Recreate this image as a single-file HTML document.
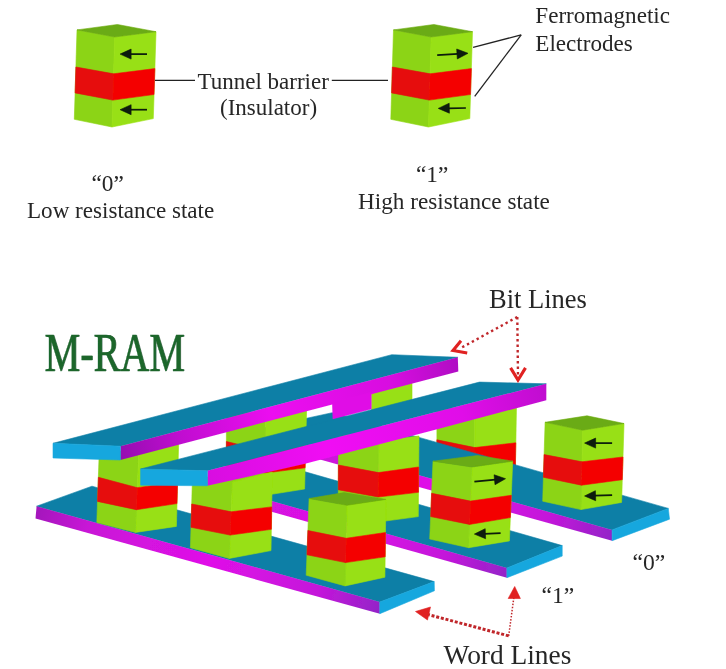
<!DOCTYPE html>
<html><head><meta charset="utf-8"><title>M-RAM</title>
<style>
html,body{margin:0;padding:0;background:#fff;}
body{width:726px;height:669px;overflow:hidden;font-family:"Liberation Serif",serif;}
svg{display:block;}
text{font-family:"Liberation Serif",serif;}
</style></head><body>
<svg width="726" height="669" viewBox="0 0 726 669">
<defs>
<filter id="bl" x="-2%" y="-2%" width="104%" height="104%"><feGaussianBlur stdDeviation="0.55"/></filter>
<filter id="bt" x="-2%" y="-2%" width="104%" height="104%"><feGaussianBlur stdDeviation="0.3"/></filter>
<linearGradient id="mw1" gradientUnits="userSpaceOnUse" x1="36" y1="512" x2="380" y2="608"><stop offset="0" stop-color="#a416bc"/><stop offset="0.15" stop-color="#c814d6"/><stop offset="0.5" stop-color="#e010e8"/><stop offset="0.82" stop-color="#c416da"/><stop offset="1" stop-color="#9424c8"/></linearGradient>
<linearGradient id="mw2" gradientUnits="userSpaceOnUse" x1="160" y1="475" x2="507" y2="573"><stop offset="0" stop-color="#a416bc"/><stop offset="0.15" stop-color="#c814d6"/><stop offset="0.5" stop-color="#e010e8"/><stop offset="0.82" stop-color="#c416da"/><stop offset="1" stop-color="#9424c8"/></linearGradient>
<linearGradient id="mw3" gradientUnits="userSpaceOnUse" x1="256" y1="435" x2="612" y2="535"><stop offset="0" stop-color="#a416bc"/><stop offset="0.15" stop-color="#c814d6"/><stop offset="0.5" stop-color="#e010e8"/><stop offset="0.82" stop-color="#c416da"/><stop offset="1" stop-color="#9424c8"/></linearGradient>
<linearGradient id="mg1" gradientUnits="userSpaceOnUse" x1="120" y1="453" x2="458" y2="365">
<stop offset="0" stop-color="#9610b0"/><stop offset="0.18" stop-color="#c010d0"/><stop offset="0.45" stop-color="#ec10f0"/><stop offset="0.8" stop-color="#d810e0"/><stop offset="1" stop-color="#b010c4"/>
</linearGradient>
<linearGradient id="mg2" gradientUnits="userSpaceOnUse" x1="207" y1="478" x2="546" y2="391">
<stop offset="0" stop-color="#d810e0"/><stop offset="0.35" stop-color="#f010f4"/><stop offset="0.75" stop-color="#e010e8"/><stop offset="1" stop-color="#c010d0"/>
</linearGradient>
</defs>
<rect width="726" height="669" fill="#ffffff"/>
<g filter="url(#bl)">
<polygon points="77.0,29.9 114.7,37.0 112.0,127.0 74.3,119.3" fill="#8cd414" stroke="#8cd414" stroke-width="0.6" stroke-linejoin="round" />
<polygon points="114.7,37.0 156.0,31.7 153.3,118.6 112.0,127.0" fill="#98e012" stroke="#98e012" stroke-width="0.6" stroke-linejoin="round" />
<polygon points="75.9,67.0 113.6,73.8 112.8,100.1 75.1,92.9" fill="#e60a0a" stroke="#e60a0a" stroke-width="0.6" stroke-linejoin="round" />
<polygon points="113.6,73.8 154.9,68.6 154.0,94.5 112.8,100.1" fill="#f40606" stroke="#f40606" stroke-width="0.6" stroke-linejoin="round" />
<polygon points="77.0,29.9 117.4,24.5 156.0,31.7 114.7,37.0" fill="#6bab12" stroke="#6bab12" stroke-width="0.6" stroke-linejoin="round" />
<line x1="147.0" y1="54.1" x2="130.1" y2="54.1" stroke="#0a1a0a" stroke-width="1.7"/>
<polygon points="120.1,54.1 131.1,49.1 131.1,59.1" fill="#0a1a0a" stroke="#0a1a0a" stroke-width="0.6" stroke-linejoin="round" />
<line x1="147.0" y1="109.7" x2="130.1" y2="109.7" stroke="#0a1a0a" stroke-width="1.7"/>
<polygon points="120.1,109.7 131.1,104.7 131.1,114.7" fill="#0a1a0a" stroke="#0a1a0a" stroke-width="0.6" stroke-linejoin="round" />
<polygon points="393.5,29.9 431.2,37.0 428.5,127.0 390.8,119.3" fill="#8cd414" stroke="#8cd414" stroke-width="0.6" stroke-linejoin="round" />
<polygon points="431.2,37.0 472.5,31.7 469.8,118.6 428.5,127.0" fill="#98e012" stroke="#98e012" stroke-width="0.6" stroke-linejoin="round" />
<polygon points="392.4,67.0 430.1,73.8 429.3,100.1 391.6,92.9" fill="#e60a0a" stroke="#e60a0a" stroke-width="0.6" stroke-linejoin="round" />
<polygon points="430.1,73.8 471.4,68.6 470.5,94.5 429.3,100.1" fill="#f40606" stroke="#f40606" stroke-width="0.6" stroke-linejoin="round" />
<polygon points="393.5,29.9 433.9,24.5 472.5,31.7 431.2,37.0" fill="#6bab12" stroke="#6bab12" stroke-width="0.6" stroke-linejoin="round" />
<line x1="437.2" y1="55.1" x2="458.0" y2="53.9" stroke="#0a1a0a" stroke-width="1.7"/>
<polygon points="468.0,53.3 457.3,58.9 456.7,49.0" fill="#0a1a0a" stroke="#0a1a0a" stroke-width="0.6" stroke-linejoin="round" />
<line x1="465.9" y1="108.0" x2="448.3" y2="108.3" stroke="#0a1a0a" stroke-width="1.7"/>
<polygon points="438.3,108.4 449.2,103.2 449.4,113.2" fill="#0a1a0a" stroke="#0a1a0a" stroke-width="0.6" stroke-linejoin="round" />
<line x1="155.0" y1="80.3" x2="195.0" y2="80.3" stroke="#222" stroke-width="1.3"/>
<line x1="331.8" y1="80.3" x2="388.0" y2="80.3" stroke="#222" stroke-width="1.3"/>
<line x1="473.1" y1="47.4" x2="521.2" y2="34.9" stroke="#222" stroke-width="1.3"/>
<line x1="474.7" y1="96.3" x2="521.2" y2="34.9" stroke="#222" stroke-width="1.3"/>
<polygon points="371.5,380.0 412.0,380.0 412.0,412.0 371.5,412.0" fill="#98e012" stroke="#98e012" stroke-width="0.6" stroke-linejoin="round" />
<polygon points="436.9,405.0 474.8,412.0 474.8,494.0 436.9,486.0" fill="#8cd414" stroke="#8cd414" stroke-width="0.6" stroke-linejoin="round" />
<polygon points="474.8,412.0 516.6,400.0 515.0,489.0 474.8,494.0" fill="#98e012" stroke="#98e012" stroke-width="0.6" stroke-linejoin="round" />
<polygon points="436.9,439.8 474.8,447.6 474.8,471.0 436.9,463.0" fill="#e60a0a" stroke="#e60a0a" stroke-width="0.6" stroke-linejoin="round" />
<polygon points="474.8,447.6 515.8,442.8 515.4,466.0 474.8,471.0" fill="#f40606" stroke="#f40606" stroke-width="0.6" stroke-linejoin="round" />
<polygon points="332.3,412.7 668.3,508.4 612.1,529.9 256.2,429.2" fill="#0f7fa6" stroke="#0f7fa6" stroke-width="0.6" stroke-linejoin="round" />
<polygon points="256.2,429.2 612.1,529.9 612.1,540.7 256.2,441.8" fill="url(#mw3)" />
<polygon points="612.1,529.9 668.3,508.4 669.5,519.2 612.1,540.7" fill="#18a7de" stroke="#18a7de" stroke-width="0.6" stroke-linejoin="round" />
<polygon points="545.1,422.3 582.7,430.2 581.0,509.6 542.7,501.2" fill="#8cd414" stroke="#8cd414" stroke-width="0.6" stroke-linejoin="round" />
<polygon points="582.7,430.2 624.0,423.5 621.6,502.4 581.0,509.6" fill="#98e012" stroke="#98e012" stroke-width="0.6" stroke-linejoin="round" />
<polygon points="544.1,454.6 582.0,461.8 581.5,485.2 543.4,477.3" fill="#e60a0a" stroke="#e60a0a" stroke-width="0.6" stroke-linejoin="round" />
<polygon points="582.0,461.8 623.0,457.0 622.3,479.7 581.5,485.2" fill="#f40606" stroke="#f40606" stroke-width="0.6" stroke-linejoin="round" />
<polygon points="545.1,422.3 587.0,415.8 624.0,423.5 582.7,430.2" fill="#6bab12" stroke="#6bab12" stroke-width="0.6" stroke-linejoin="round" />
<line x1="612.1" y1="443.1" x2="594.6" y2="443.1" stroke="#0a1a0a" stroke-width="1.7"/>
<polygon points="584.6,443.1 595.6,438.1 595.6,448.1" fill="#0a1a0a" stroke="#0a1a0a" stroke-width="0.6" stroke-linejoin="round" />
<line x1="612.1" y1="495.2" x2="594.6" y2="495.7" stroke="#0a1a0a" stroke-width="1.7"/>
<polygon points="584.6,496.0 595.4,490.7 595.7,500.7" fill="#0a1a0a" stroke="#0a1a0a" stroke-width="0.6" stroke-linejoin="round" />
<polygon points="232.0,450.8 562.2,545.6 506.9,568.0 232.0,489.7" fill="#0f7fa6" stroke="#0f7fa6" stroke-width="0.6" stroke-linejoin="round" />
<polygon points="232.0,489.7 506.9,568.0 506.9,577.7 232.0,500.7" fill="url(#mw2)" />
<polygon points="506.9,568.0 562.2,545.6 562.2,556.1 506.9,577.7" fill="#18a7de" stroke="#18a7de" stroke-width="0.6" stroke-linejoin="round" />
<polygon points="226.4,408.0 265.3,416.0 265.3,495.3 226.4,487.0" fill="#8cd414" stroke="#8cd414" stroke-width="0.6" stroke-linejoin="round" />
<polygon points="265.3,416.0 306.6,410.0 304.6,489.0 265.3,495.3" fill="#98e012" stroke="#98e012" stroke-width="0.6" stroke-linejoin="round" />
<polygon points="226.4,441.5 265.3,451.0 265.3,473.0 226.4,465.0" fill="#e60a0a" stroke="#e60a0a" stroke-width="0.6" stroke-linejoin="round" />
<polygon points="265.3,451.0 305.7,446.0 305.1,467.8 265.3,473.0" fill="#f40606" stroke="#f40606" stroke-width="0.6" stroke-linejoin="round" />
<polygon points="338.5,433.0 378.6,441.0 378.0,522.0 338.2,513.0" fill="#8cd414" stroke="#8cd414" stroke-width="0.6" stroke-linejoin="round" />
<polygon points="378.6,441.0 419.0,436.0 418.3,516.6 378.0,522.0" fill="#98e012" stroke="#98e012" stroke-width="0.6" stroke-linejoin="round" />
<polygon points="338.4,465.0 378.4,472.6 378.2,497.0 338.3,489.8" fill="#e60a0a" stroke="#e60a0a" stroke-width="0.6" stroke-linejoin="round" />
<polygon points="378.4,472.6 418.7,467.0 418.5,492.3 378.2,497.0" fill="#f40606" stroke="#f40606" stroke-width="0.6" stroke-linejoin="round" />
<polygon points="433.0,461.2 471.9,467.0 468.6,547.7 429.7,539.0" fill="#8cd414" stroke="#8cd414" stroke-width="0.6" stroke-linejoin="round" />
<polygon points="471.9,467.0 512.7,461.2 509.4,540.9 468.6,547.7" fill="#98e012" stroke="#98e012" stroke-width="0.6" stroke-linejoin="round" />
<polygon points="431.6,493.3 470.5,501.1 469.6,524.4 430.7,516.6" fill="#e60a0a" stroke="#e60a0a" stroke-width="0.6" stroke-linejoin="round" />
<polygon points="470.5,501.1 511.3,495.3 510.4,517.6 469.6,524.4" fill="#f40606" stroke="#f40606" stroke-width="0.6" stroke-linejoin="round" />
<polygon points="433.0,461.2 477.5,455.5 512.7,461.2 471.9,467.0" fill="#6bab12" stroke="#6bab12" stroke-width="0.6" stroke-linejoin="round" />
<line x1="474.4" y1="481.7" x2="495.5" y2="479.7" stroke="#0a1a0a" stroke-width="1.7"/>
<polygon points="505.5,478.7 495.0,484.7 494.1,474.8" fill="#0a1a0a" stroke="#0a1a0a" stroke-width="0.6" stroke-linejoin="round" />
<line x1="500.6" y1="533.2" x2="484.4" y2="533.8" stroke="#0a1a0a" stroke-width="1.7"/>
<polygon points="474.4,534.1 485.2,528.7 485.6,538.7" fill="#0a1a0a" stroke="#0a1a0a" stroke-width="0.6" stroke-linejoin="round" />
<polygon points="36.6,506.2 92.0,486.2 434.2,581.6 379.8,602.0" fill="#0f7fa6" stroke="#0f7fa6" stroke-width="0.6" stroke-linejoin="round" />
<polygon points="36.6,506.2 379.8,602.0 379.8,613.7 35.5,518.6" fill="url(#mw1)" />
<polygon points="379.8,602.0 434.2,581.6 434.4,590.8 379.8,613.7" fill="#18a7de" stroke="#18a7de" stroke-width="0.6" stroke-linejoin="round" />
<polygon points="99.3,450.0 138.8,452.0 135.5,532.4 96.8,522.6" fill="#8cd414" stroke="#8cd414" stroke-width="0.6" stroke-linejoin="round" />
<polygon points="138.8,452.0 178.8,438.0 176.4,526.4 135.5,532.4" fill="#98e012" stroke="#98e012" stroke-width="0.6" stroke-linejoin="round" />
<polygon points="98.4,477.3 137.3,487.7 136.4,509.7 97.5,501.4" fill="#e60a0a" stroke="#e60a0a" stroke-width="0.6" stroke-linejoin="round" />
<polygon points="137.3,487.7 177.6,482.0 177.0,503.6 136.4,509.7" fill="#f40606" stroke="#f40606" stroke-width="0.6" stroke-linejoin="round" />
<polygon points="192.6,474.0 232.4,482.0 229.3,558.4 190.4,547.7" fill="#8cd414" stroke="#8cd414" stroke-width="0.6" stroke-linejoin="round" />
<polygon points="232.4,482.0 272.3,472.0 271.0,550.6 229.3,558.4" fill="#98e012" stroke="#98e012" stroke-width="0.6" stroke-linejoin="round" />
<polygon points="191.7,504.0 231.2,511.8 230.2,535.1 191.0,527.3" fill="#e60a0a" stroke="#e60a0a" stroke-width="0.6" stroke-linejoin="round" />
<polygon points="231.2,511.8 271.7,506.9 271.4,529.3 230.2,535.1" fill="#f40606" stroke="#f40606" stroke-width="0.6" stroke-linejoin="round" />
<polygon points="309.1,498.5 347.0,505.3 345.1,585.9 306.2,575.2" fill="#8cd414" stroke="#8cd414" stroke-width="0.6" stroke-linejoin="round" />
<polygon points="347.0,505.3 385.9,499.4 384.9,577.2 345.1,585.9" fill="#98e012" stroke="#98e012" stroke-width="0.6" stroke-linejoin="round" />
<polygon points="307.9,530.5 346.2,538.3 345.6,562.6 307.0,554.8" fill="#e60a0a" stroke="#e60a0a" stroke-width="0.6" stroke-linejoin="round" />
<polygon points="346.2,538.3 385.5,532.5 385.2,556.8 345.6,562.6" fill="#f40606" stroke="#f40606" stroke-width="0.6" stroke-linejoin="round" />
<polygon points="309.1,498.5 344.1,492.6 385.9,499.4 347.0,505.3" fill="#6bab12" stroke="#6bab12" stroke-width="0.6" stroke-linejoin="round" />
<polygon points="53.0,443.3 391.8,354.7 457.8,357.3 120.4,446.2" fill="#0f7fa6" stroke="#0f7fa6" stroke-width="0.6" stroke-linejoin="round" />
<polygon points="120.4,446.2 457.8,357.3 458.3,371.6 120.4,460.0" fill="url(#mg1)"/>
<polygon points="332.4,402.6 371.2,392.4 371.2,409.0 333.0,419.0" fill="#e010e6" stroke="#e010e6" stroke-width="0.6" stroke-linejoin="round" />
<polygon points="53.0,443.3 120.4,446.2 120.4,460.0 53.0,458.0" fill="#18a7de" stroke="#18a7de" stroke-width="0.6" stroke-linejoin="round" />
<polygon points="140.6,469.0 479.5,382.1 546.3,383.8 207.4,470.8" fill="#0f7fa6" stroke="#0f7fa6" stroke-width="0.6" stroke-linejoin="round" />
<polygon points="207.4,470.8 546.3,383.8 546.3,400.2 440.0,428.6 305.0,463.8 207.4,485.8" fill="url(#mg2)"/>
<polygon points="140.6,469.0 207.4,470.8 207.4,485.8 140.6,485.2" fill="#18a7de" stroke="#18a7de" stroke-width="0.6" stroke-linejoin="round" />
<line x1="517.3" y1="317.0" x2="460.0" y2="348.5" stroke="#c0282c" stroke-width="2.4" stroke-dasharray="2.4 3.1" stroke-linecap="butt"/>
<line x1="517.3" y1="317.0" x2="518.0" y2="376.0" stroke="#c0282c" stroke-width="2.4" stroke-dasharray="2.4 3.1" stroke-linecap="butt"/>
<polyline points="461.0,340.7 453.0,350.4 467.2,353.1" fill="none" stroke="#e02020" stroke-width="3.1"/>
<polyline points="510.6,367.9 518.0,380.0 525.5,367.9" fill="none" stroke="#e02020" stroke-width="3.1"/>
<line x1="508.7" y1="635.9" x2="513.9" y2="597.0" stroke="#c0282c" stroke-width="1.5" stroke-dasharray="1.5 1.6" stroke-linecap="butt"/>
<line x1="508.7" y1="635.9" x2="428.0" y2="614.5" stroke="#c0282c" stroke-width="3.0" stroke-dasharray="3.0 1.8" stroke-linecap="butt"/>
<polygon points="514.7,586.5 508.2,598.5 520.4,598.5" fill="#e02020" stroke="#e02020" stroke-width="0.6" stroke-linejoin="round" />
<polygon points="415.5,611.5 430.5,607.0 427.5,620.0" fill="#e02020" stroke="#e02020" stroke-width="0.6" stroke-linejoin="round" />
</g>
<g filter="url(#bt)">
<text x="197.5" y="88.6" font-size="23.0" fill="#262626" >Tunnel barrier</text>
<text x="220.0" y="115.4" font-size="23.0" fill="#262626" >(Insulator)</text>
<text x="535.3" y="23.3" font-size="23.1" fill="#262626" >Ferromagnetic</text>
<text x="535.3" y="50.7" font-size="23.1" fill="#262626" >Electrodes</text>
<text x="91.5" y="190.9" font-size="23.3" fill="#262626" >“0”</text>
<text x="27.0" y="217.9" font-size="23.1" fill="#262626" >Low resistance state</text>
<text x="416.0" y="181.6" font-size="23.3" fill="#262626" >“1”</text>
<text x="358.0" y="208.6" font-size="23.2" fill="#262626" >High resistance state</text>
<text x="489.0" y="307.9" font-size="26.5" fill="#262626" >Bit Lines</text>
<text x="443.5" y="663.6" font-size="27.4" fill="#262626" >Word Lines</text>
<text x="632.5" y="570.0" font-size="23.6" fill="#262626" >“0”</text>
<text x="541.5" y="603.2" font-size="23.6" fill="#262626" >“1”</text>
<g transform="translate(44.5,370.6) scale(1,1.35)"><text x="0.8" y="0.5" font-size="40.1" fill="#0c3316" opacity="0.6">M-RAM</text><text x="0" y="0" font-size="40.1" fill="#1b662c" stroke="#1b662c" stroke-width="0.35">M-RAM</text></g>
</g>
</svg>
</body></html>
